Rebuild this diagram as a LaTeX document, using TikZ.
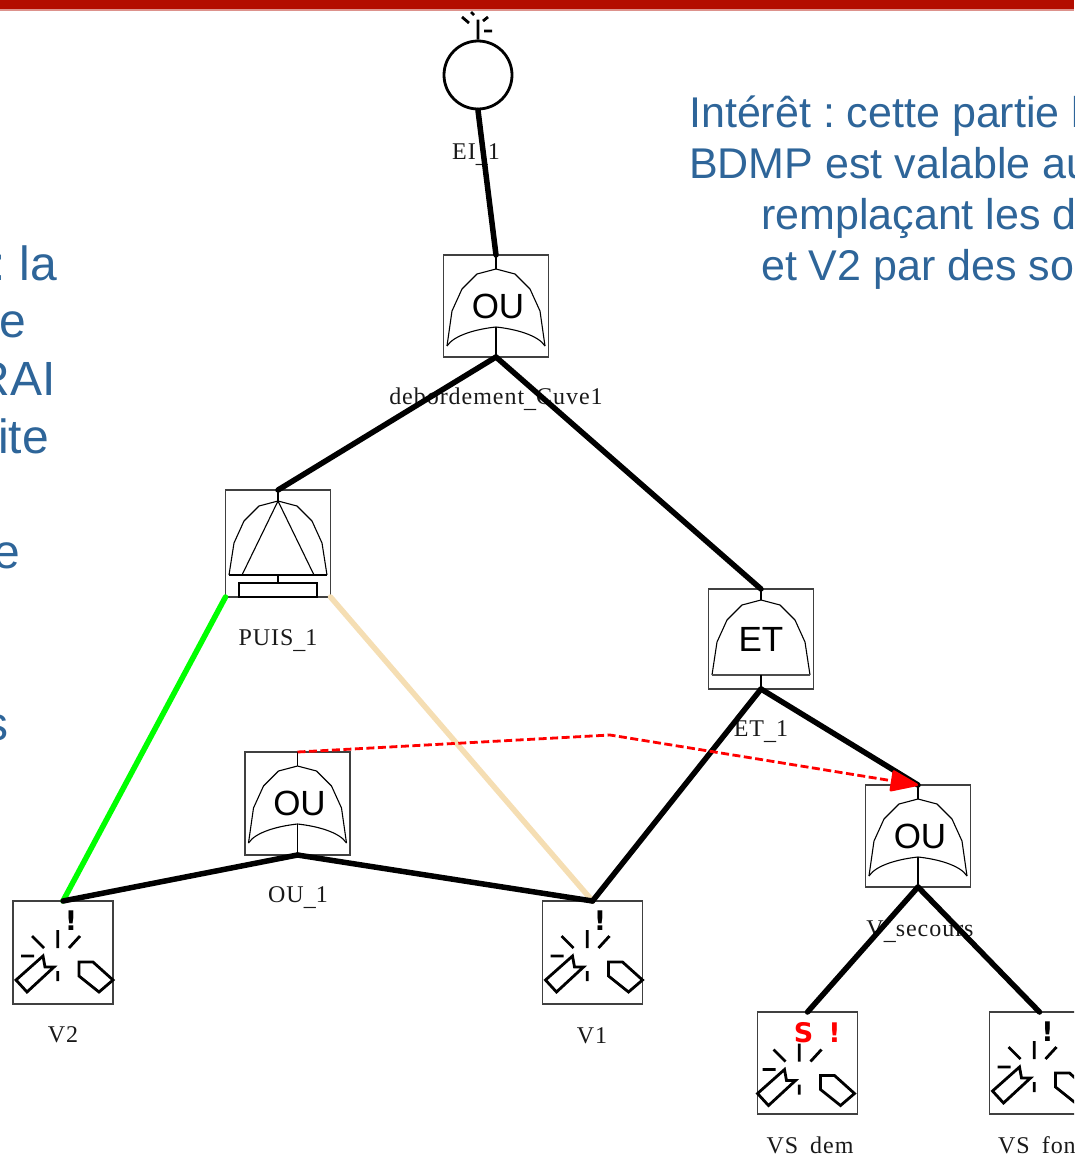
\documentclass[tikz,border=0pt]{standalone}
\usepackage{fontspec}
\setmainfont{Liberation Sans}
\newfontfamily\labelfont[LetterSpace=4]{Liberation Serif}
\newfontfamily\bangfont{DejaVu Sans}
\usetikzlibrary{arrows.meta}
\frenchspacing
\newcommand\lowbar{\raisebox{-3pt}{\_}}
\definecolor{slideblue}{HTML}{2E6599}
\definecolor{slidered}{HTML}{B30D00}
\definecolor{wheat}{HTML}{F5DEB3}
\tikzset{
  gatebox/.style={draw=black!75,line width=1.1pt,fill=white,inner sep=0pt,outer sep=0pt,
    minimum width=105pt,minimum height=102pt},
  valvebox/.style={gatebox,minimum width=100pt,minimum height=103pt},
  gatetext/.style={font=\fontsize{35}{35}\selectfont,inner sep=0pt},
  nametext/.style={font=\labelfont\fontsize{24}{24}\selectfont,text=black!90,inner sep=0pt},
  bangtext/.style={font=\bangfont\bfseries\fontsize{27}{27}\selectfont,inner sep=0pt},
  slidetext/.style={font=\fontsize{43}{43}\selectfont,text=slideblue,inner sep=0pt},
  sidetext/.style={font=\fontsize{48}{48}\selectfont,text=slideblue,inner sep=0pt,anchor=base east},
  link/.style={line width=5.5pt,line cap=round},
  thinline/.style={line width=1.1pt},
  dome/.pic={
    \draw[thinline,line join=round] (-49,#1) -- (-44,42) -- (-34,20) -- (-19,5) -- (0,0)
      -- (19,5) -- (34,20) -- (44,42) -- (49,#1);
  },
  ougate/.pic={
    \pic {dome=77};
    \draw[thinline] (0,-14) -- (0,0);
    \draw[thinline] (-49,77) .. controls (-42,66) and (-19,60) .. (0,58)
      .. controls (19,60) and (42,66) .. (49,77);
    \draw[thinline] (0,58) -- (0,88);
  },
  etgate/.pic={
    \pic {dome=75};
    \draw[thinline] (0,-11) -- (0,0);
    \draw[line width=1.4pt,black!70] (-49,75) -- (49,75);
    \draw[thinline] (0,75) -- (0,89);
  },
  puisgate/.pic={
    \pic {dome=74};
    \draw[thinline] (0,-11) -- (0,0);
    \draw[line width=1.3pt] (-49,74) -- (49,74);
    \draw[thinline] (-36,74) -- (0,0) -- (36,74);
    \draw[line width=1.6pt] (0,74) -- (0,82);
    \draw[thinline] (-39,96) rectangle (39,82);
  },
  valve/.pic={
    \draw[line width=2.8pt,line join=miter]
      (30,55) -- (32,66) -- (41,66) -- (14,91) -- (3,79) -- cycle
      (66,61) -- (80,61) -- (100,79) -- (86,91) -- (66,75) -- cycle;
    \draw[line width=2.8pt]
      (44.7,29) -- (44.7,47) (19,35) -- (31,47) (67,35) -- (56,47)
      (8,55) -- (21,55) (44.7,70) -- (44.7,80);
  },
}
\begin{document}
\begin{tikzpicture}[x=1pt,y=-1pt]
  \path[use as bounding box,clip] (0,0) rectangle (1074,1156);

  % bandeau du haut
  \fill[slidered] (0,0) rectangle (1074,9);
  \fill[slidered!45] (0,9) rectangle (1074,11);

  % textes de la diapositive
  \node[slidetext,anchor=base west] (introA) at (689,127) {Intérêt : cette partie l};
  \node[slidetext,anchor=base west] (introB) at (689,178) {BDMP est valable au};
  \node[slidetext,anchor=base west] (introC) at (761,229) {remplaçant les d};
  \node[slidetext,anchor=base west] (introD) at (761,280) {et V2 par des so};
  \node[sidetext] (sideA) at (57,280) {: la};
  \node[sidetext] (sideB) at (26,337) {e};
  \node[sidetext] (sideC) at (56,395) {RAI};
  \node[sidetext] (sideD) at (49,453) {ite};
  \node[sidetext] (sideE) at (20,568) {e};
  \node[sidetext] (sideF) at (9,740) {s};

  % les portes
  \node[circle,draw,line width=2.8pt,fill=white,inner sep=0pt,minimum size=68pt] (EI) at (478,75) {};
  \node[gatebox] (debordement) at (496,306) {};
  \node[gatebox,minimum height=107pt] (PUIS) at (278,543.5) {};
  \node[gatebox,minimum height=100pt] (ET) at (761,639) {};
  \node[gatebox,minimum height=103pt] (OUone) at (297.5,803.5) {};
  \node[gatebox] (Vsecours) at (918,836) {};
  \node[valvebox] (Vtwo) at (63,952.5) {};
  \node[valvebox] (Vone) at (592.5,952.5) {};
  \node[valvebox,minimum height=102pt] (VSdem) at (807.5,1063) {};
  \node[valvebox,minimum height=102pt] (VSfon) at (1039.5,1063) {};

  \pic at ([yshift=-14pt]debordement.north) {ougate};
  \pic at ([yshift=-11pt]PUIS.north) {puisgate};
  \pic at ([yshift=-11pt]ET.north) {etgate};
  \pic at ([yshift=-14pt]OUone.north) {ougate};
  \pic at ([yshift=-14pt]Vsecours.north) {ougate};
  \pic at (Vtwo.north west) {valve};
  \pic at (Vone.north west) {valve};
  \pic at ([shift={(-3,2.5)}]VSdem.north west) {valve};
  \pic at (VSfon.north west) {valve};

  % le declencheur du haut
  \draw[line width=2.8pt] (EI.north) -- ++(0,-20)
    (462,17) -- (469,23) (471,12) -- (474,15) (483,21) -- (488,17) (484,31) -- (492,31);

  \node[gatetext] (debordementtxt) at (498,306) {OU};
  \node[gatetext] (ETtxt) at (761,639) {ET};
  \node[gatetext] (OUonetxt) at (299.5,803.5) {OU};
  \node[gatetext] (Vsecourstxt) at (920,836) {OU};

  \node[bangtext] (Vtwobang) at ([shift={(58,20)}]Vtwo.north west) {!};
  \node[bangtext] (Vonebang) at ([shift={(57.5,20)}]Vone.north west) {!};
  \node[bangtext,text=red] (VSdemS) at ([shift={(46,21)}]VSdem.north west) {S};
  \node[bangtext,text=red] (VSdembang) at ([shift={(77,21)}]VSdem.north west) {!};
  \node[bangtext] (VSfonbang) at ([shift={(58,20)}]VSfon.north west) {!};

  % les noms
  \node[nametext,anchor=base] (EIname) at (476,159) {EI\lowbar 1};
  \node[nametext,anchor=base] (debordementname) at (496,404) {debordement\lowbar Cuve1};
  \node[nametext,anchor=base] (PUISname) at (278,645) {PUIS\lowbar 1};
  \node[nametext,anchor=base] (ETname) at (761,736) {ET\lowbar 1};
  \node[nametext,anchor=base] (OUonename) at (298,902) {OU\lowbar 1};
  \node[nametext,anchor=base] (Vsecoursname) at (920,936) {V\lowbar secours};
  \node[nametext,anchor=base] (Vtwoname) at (63,1042) {V2};
  \node[nametext,anchor=base] (Vonename) at (592,1043) {V1};
  \node[nametext,anchor=base] (VSdemname) at (810,1153) {VS\lowbar dem};
  \node[nametext,anchor=base west] (VSfonname) at (998,1153) {VS\lowbar fon};

  % les liens
  \draw[link,draw=wheat] (PUIS.south east) -- (Vone.north);
  \draw[link,draw=green] (PUIS.south west) -- (Vtwo.north);
  \draw[link] (EI.south) -- (debordement.north);
  \draw[link] (debordement.south) -- (PUIS.north);
  \draw[link] (debordement.south) -- (ET.north);
  \draw[link] (ET.south) -- (Vone.north);
  \draw[link] (ET.south) -- (Vsecours.north);
  \draw[link] (OUone.south) -- (Vtwo.north);
  \draw[link] (OUone.south) -- (Vone.north);
  \draw[link] (Vsecours.south) -- (VSdem.north);
  \draw[link] (Vsecours.south) -- (VSfon.north);

  \coordinate (redbend) at (610,735);
  \draw[line width=2.8pt,red,dash pattern=on 8pt off 3.5pt,
    -{Stealth[length=30pt,width=22pt,inset=0pt,round]}]
    (OUone.north) -- (redbend) -- (Vsecours.north);
\end{tikzpicture}
\end{document}
